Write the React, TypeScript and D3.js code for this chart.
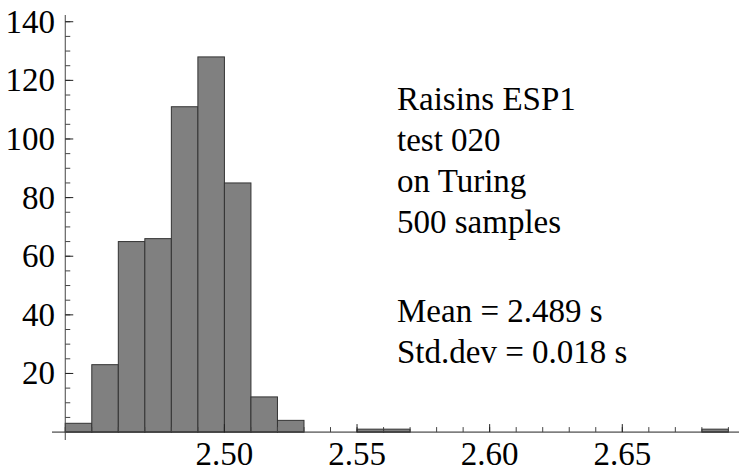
import React from "react";
import * as d3 from "d3";

const binLefts = [2.44, 2.45, 2.46, 2.47, 2.48, 2.49, 2.5, 2.51, 2.52, 2.55, 2.56, 2.68];
const counts = [3, 23, 65, 66, 111, 128, 85, 12, 4, 1, 1, 1];
const binWidth = 0.01;
const xMajorTicks = [2.5, 2.55, 2.6, 2.65];
const xMinorTicks = d3.range(2.44, 2.695, 0.01).map((v) => +v.toFixed(2));
const yMajorTicks = [20, 40, 60, 80, 100, 120, 140];
const yMinorTicks = d3.range(5, 145, 5);
const infoLines = ["Raisins ESP1", "test 020", "on Turing", "500 samples"];
const statLines = ["Mean = 2.489 s", "Std.dev = 0.018 s"];

const W = 739;
const H = 470;

export default function App() {
  const x = d3.scaleLinear().domain([2.435, 2.694]).range([52, 739]);
  const y = d3.scaleLinear().domain([-2.7, 142.3]).range([440, 15]);
  const x0 = x(2.44);
  const y0 = y(0);
  const ts = { fontFamily: "Liberation Serif", fontSize: 33 };
  return (
    <svg
      width={W}
      height={H}
      style={{ position: "absolute", left: 0, top: 0, background: "#fff" }}
    >
      {binLefts.map((b, i) => (
        <rect
          key={i}
          x={x(b)}
          y={y(counts[i])}
          width={x(b + binWidth) - x(b)}
          height={y0 - y(counts[i])}
          fill="#808080"
          stroke="#333"
          strokeWidth={1}
        />
      ))}
      <line x1={x.range()[0]} x2={x.range()[1]} y1={y0} y2={y0} stroke="#222" strokeWidth={1} />
      <line x1={x0} x2={x0} y1={y.range()[0]} y2={y.range()[1]} stroke="#444" strokeWidth={1} />
      {xMinorTicks.map((t) => (
        <line key={"xm" + t} x1={x(t)} x2={x(t)} y1={y0} y2={y0 - 5} stroke="#444" strokeWidth={1} />
      ))}
      {xMajorTicks.map((t) => (
        <g key={"xM" + t}>
          <line x1={x(t)} x2={x(t)} y1={y0} y2={y0 - 8} stroke="#222" strokeWidth={1} />
          <text x={x(t)} y={465} textAnchor="middle" style={ts} fill="#000">
            {t.toFixed(2)}
          </text>
        </g>
      ))}
      {yMinorTicks.map((t) => (
        <line key={"ym" + t} x1={x0} x2={x0 + 5} y1={y(t)} y2={y(t)} stroke="#444" strokeWidth={1} />
      ))}
      {yMajorTicks.map((t) => (
        <g key={"yM" + t}>
          <line x1={x0} x2={x0 + 8} y1={y(t)} y2={y(t)} stroke="#222" strokeWidth={1} />
          <text x={55} y={y(t) + 11} textAnchor="end" style={ts} fill="#000">
            {t}
          </text>
        </g>
      ))}
      {infoLines.map((s, i) => (
        <text key={s} x={397} y={110 + i * 41} style={ts} fill="#000">
          {s}
        </text>
      ))}
      {statLines.map((s, i) => (
        <text key={s} x={397} y={322 + i * 40.7} style={ts} fill="#000">
          {s}
        </text>
      ))}
    </svg>
  );
}
